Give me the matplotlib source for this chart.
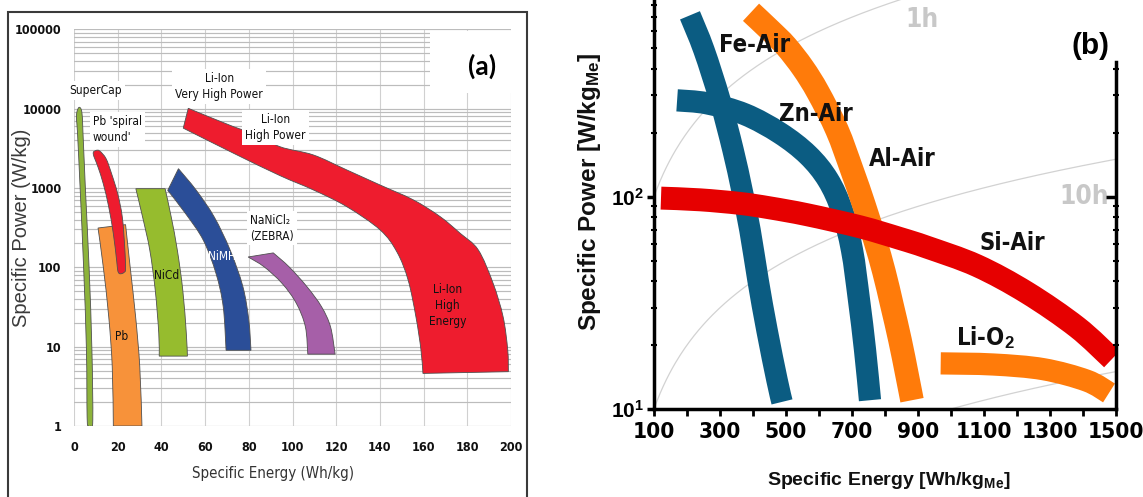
import numpy as np
import matplotlib
matplotlib.use("Agg")
import matplotlib.pyplot as plt
from matplotlib import font_manager as fm
from matplotlib.ticker import FixedLocator, LogLocator, NullFormatter
from matplotlib.patches import Rectangle, PathPatch
from matplotlib.path import Path

# ---------------- data: panel (a) ----------------
a_xticks = [0, 20, 40, 60, 80, 100, 120, 140, 160, 180, 200]
a_yticks = [1, 10, 100, 1000, 10000, 100000]
a_ytick_labels = ["1", "10", "100", "1000", "10000", "100000"]

# closed outlines
supercap_E = [2.4, 1.3, 1.2, 1.6, 2.8, 4.4, 5.7, 6.0, 6.6, 7.6, 8.6, 8.2, 6.9, 5.2, 4.1, 3.6]
supercap_P = [10400, 9000, 7000, 5000, 1000, 100, 9, 1.3, 1.0, 1.0, 1.2, 9, 100, 1000, 5000, 9000]

pbspiral_E = [10.1, 8.8, 11.0, 13.4, 15.9, 18.0, 19.5, 20.0, 20.6, 21.6, 22.8, 23.6, 23.2, 22.1, 20.0, 17.2, 14.7, 11.8]
pbspiral_P = [2970, 2700, 1830, 1130, 576, 266, 123, 92, 84, 83, 86, 96, 181, 431, 847, 1513, 2335, 2920]

# band outlines: two edges, each from top to bottom
pb_left_E = [11.0, 13.4, 15.9, 17.5, 18.0]
pb_left_P = [313, 101, 23.8, 5.6, 1.0]
pb_right_E = [23.6, 25.7, 28.2, 30.1, 31.1]
pb_right_P = [345, 101, 23.8, 5.6, 1.0]

nicd_left_E = [28.3, 31.4, 34.7, 37.2, 38.8, 39.0]
nicd_left_P = [980, 430, 164, 51, 14.7, 7.6]
nicd_right_E = [41.7, 44.5, 47.3, 49.8, 51.4, 51.9]
nicd_right_P = [980, 430, 164, 51, 14.7, 7.6]

nimh_inner_E = [42.9, 51.1, 59.2, 65.0, 68.3, 69.6]
nimh_inner_P = [933, 474, 219, 83.4, 31.8, 9.0]
nimh_outer_E = [47.8, 56.0, 64.2, 71.5, 77.3, 80.0, 81.0]
nimh_outer_P = [1750, 933, 430, 164, 57, 21.6, 9.0]

zebra_inner_E = [79.7, 87.1, 95.3, 101.8, 105.9, 107.0]
zebra_inner_P = [135, 101, 62.4, 35.0, 17.8, 8.05]
zebra_outer_E = [91.2, 98.5, 106.7, 113.3, 117.4, 119.5]
zebra_outer_P = [152, 101, 56.6, 31.8, 17.8, 8.05]

liion_lower_E = [50.0, 72.9, 94.3, 109.5, 124.8, 140.1, 147.8, 152.9, 156.5, 158.8, 159.7]
liion_lower_P = [5680, 2750, 1430, 946, 582, 296, 156, 69.4, 23.7, 9.1, 4.6]
liion_upper_E = [52.3, 72.9, 82.1, 94.3, 109.5, 124.8, 140.1, 155.3, 167.5, 176.7, 185.0,
                 191.8, 196.4, 198.5, 198.8]
liion_upper_P = [10100, 5940, 4900, 3310, 2610, 1690, 1090, 708, 437, 269, 166,
                 63, 23.7, 9.1, 4.84]

# ---------------- data: panel (b) ----------------
b_xticks_major = [100, 300, 500, 700, 900, 1100, 1300, 1500]
b_xticks_minor = [200, 400, 600, 800, 1000, 1200, 1400]
b_yticks = [10, 100]
b_ytick_labels = [r"$\mathbf{10^{1}}$", r"$\mathbf{10^{2}}$"]

fe_E = [209, 251.5, 300, 339.4, 366.7, 390.9, 415.2, 442.4, 472.7, 487.9]
fe_P = [714, 489, 284, 166, 107, 69.5, 40.5, 23.5, 13.7, 10.8]

zn_E = [170, 260.6, 375.8, 481.8, 566.7, 627.3, 669.7, 700, 721.2, 739.4, 754.5]
zn_P = [284, 275, 244, 199, 157, 120, 86, 56, 32.6, 19, 11]

al_E = [394, 451.5, 500, 551.5, 597, 654.5, 700, 736.4, 769.7, 797, 821.2, 845.5, 866.7, 881.8]
al_P = [738, 608, 511, 403, 310, 206, 133, 91.2, 62.4, 44.2, 30.8, 21.1, 14.5, 11.0]

si_E = [121.2, 239.4, 360.6, 451.5, 563.6, 724.2, 845.5, 927.3, 1078.8, 1230.3, 1381.8, 1487.9]
si_P = [98.4, 96.6, 92.9, 88.5, 82.2, 72.1, 63.5, 57.8, 47.3, 35.3, 24.3, 17.2]

lio2_E = [968.8, 1128.2, 1279.7, 1411.2, 1478.8]
lio2_P = [16.4, 16.2, 15.4, 13.6, 11.9]

iso_hours = [1, 10, 100]

# ---------------- fonts ----------------
_entries = fm.fontManager.ttflist
_names = {f.name for f in _entries}
COND = None
if "Liberation Sans Narrow" in _names:
    COND = ("Liberation Sans Narrow", "normal", 1.0)
else:
    for nm in ["DejaVu Sans", "Noto Sans", "Open Sans", "Roboto", "Liberation Sans"]:
        if any(f.name == nm and str(f.stretch) in ("condensed", "semi-condensed", "extra-condensed")
               for f in _entries):
            COND = (nm, "condensed", 0.9)
            break


def nf(size, weight="normal"):
    """narrow font (falls back to Liberation Sans)"""
    if COND:
        return dict(family=[COND[0], "Liberation Sans", "DejaVu Sans"], fontsize=size * COND[2],
                    fontweight=weight, fontstretch=COND[1])
    return dict(family=["Liberation Sans", "DejaVu Sans"], fontsize=size * 0.85, fontweight=weight)


def rf(size, weight="normal"):
    return dict(family=["Liberation Sans", "DejaVu Sans"], fontsize=size, fontweight=weight)


plt.rcParams["mathtext.fontset"] = "custom"
plt.rcParams["mathtext.rm"] = "Liberation Sans"
plt.rcParams["mathtext.it"] = "Liberation Sans:italic"
plt.rcParams["mathtext.bf"] = "Liberation Sans:bold"
plt.rcParams["mathtext.sf"] = "Liberation Sans"


# ---------------- smooth path helpers (Catmull-Rom -> cubic Bezier in E / log P space) -------
def _bezier(E, P, closed=False):
    x = np.asarray(E, float)
    y = np.log10(np.asarray(P, float))
    pts = np.column_stack([x, y])
    n = len(pts)
    verts, codes = [pts[0]], [Path.MOVETO]
    segs = n if closed else n - 1
    for i in range(segs):
        p1 = pts[i % n]
        p2 = pts[(i + 1) % n]
        p0 = pts[(i - 1) % n] if (closed or i > 0) else p1
        p3 = pts[(i + 2) % n] if (closed or i + 2 < n) else p2
        c1 = p1 + (p2 - p0) / 6.0
        c2 = p2 - (p3 - p1) / 6.0
        verts += [c1, c2, p2]
        codes += [Path.CURVE4] * 3
    v = np.array(verts)
    v[:, 1] = 10 ** v[:, 1]
    return v, codes


def smooth_line(E, P):
    v, c = _bezier(E, P)
    return Path(v, c)


def smooth_closed(E, P):
    v, c = _bezier(E, P, closed=True)
    c = list(c)
    v = np.vstack([v, v[:1]])
    c.append(Path.CLOSEPOLY)
    return Path(v, c)


def band_path(E1, P1, E2, P2):
    """edge 1 (top->bottom), then edge 2 traversed bottom->top, straight joins."""
    v1, c1 = _bezier(E1, P1)
    v2, c2 = _bezier(E2[::-1], P2[::-1])
    c2 = list(c2)
    c2[0] = Path.LINETO
    v = np.vstack([v1, v2, v1[:1]])
    c = list(c1) + c2 + [Path.CLOSEPOLY]
    return Path(v, c)


W, H = 1143, 497
fig = plt.figure(figsize=(W / 100, H / 100), dpi=100)

# =============== panel (a) ===============
axA = fig.add_axes([74 / W, 1 - 426 / H, 437 / W, 396.7 / H])
axA.set_yscale("log")
axA.set_xlim(0, 200)
axA.set_ylim(1, 100000)
axA.set_axisbelow(True)
axA.set_xticks(a_xticks, labels=[str(v) for v in a_xticks], **nf(10, "bold"))
axA.set_yticks(a_yticks, labels=a_ytick_labels, **nf(10, "bold"))
axA.yaxis.set_minor_locator(LogLocator(base=10, subs=np.arange(2, 10)))
axA.yaxis.set_minor_formatter(NullFormatter())
axA.grid(which="both", axis="y", color="#bcbcbc", lw=0.85)
axA.grid(which="major", axis="x", color="#d0d0d0", lw=0.8)
axA.tick_params(which="both", length=0)
axA.tick_params(axis="x", pad=11, colors="#111111")
axA.tick_params(axis="y", pad=9, colors="#111111")
for s in axA.spines.values():
    s.set_visible(False)

axA.add_patch(Rectangle((0.815, 0.839), 0.19, 0.157, transform=axA.transAxes,
                        fc="white", ec="none", zorder=1))

edge = dict(edgecolor="#505050", lw=0.6, zorder=2)
axA.add_patch(PathPatch(smooth_closed(supercap_E, supercap_P), facecolor="#8DB33A", **edge))
axA.add_patch(PathPatch(band_path(pb_left_E, pb_left_P, pb_right_E, pb_right_P),
                        facecolor="#F7923A", **edge))
axA.add_patch(PathPatch(smooth_closed(pbspiral_E, pbspiral_P), facecolor="#EE1C2E", **edge))
axA.add_patch(PathPatch(band_path(nicd_left_E, nicd_left_P, nicd_right_E, nicd_right_P),
                        facecolor="#96BC2E", **edge))
axA.add_patch(PathPatch(band_path(nimh_inner_E, nimh_inner_P, nimh_outer_E, nimh_outer_P),
                        facecolor="#2B4E98", **edge))
axA.add_patch(PathPatch(band_path(zebra_inner_E, zebra_inner_P, zebra_outer_E, zebra_outer_P),
                        facecolor="#A65FA8", **edge))
axA.add_patch(PathPatch(band_path(liion_lower_E, liion_lower_P, liion_upper_E, liion_upper_P),
                        facecolor="#EE1C2E", **edge))

box = dict(boxstyle="square,pad=0.25", fc="white", ec="none")
tk = dict(color="#111111", zorder=5, linespacing=1.3)
lab = 9.5
axA.text(9.8, 16900, "SuperCap", ha="center", va="center", bbox=box, **tk, **nf(lab))
axA.text(8.5, 5410, "Pb 'spiral\nwound'", ha="left", va="center", bbox=box, **tk, **nf(lab))
axA.text(66.5, 19200, "Li-Ion\nVery High Power", ha="center", va="center", multialignment="center",
         bbox=box, **tk, **nf(lab))
axA.text(92.3, 5850, "Li-Ion\nHigh Power", ha="center", va="center", multialignment="center",
         bbox=box, **tk, **nf(lab))
axA.text(90.7, 313, "NaNiCl\u2082\n(ZEBRA)", ha="center", va="center", multialignment="left",
         bbox=box, **tk, **nf(lab))
axA.text(67.8, 135, "NiMH", ha="center", va="center", color="white", zorder=5, **nf(lab))
axA.text(42.4, 78, "NiCd", ha="center", va="center", **tk, **nf(lab))
axA.text(21.6, 13.6, "Pb", ha="center", va="center", **tk, **nf(lab))
axA.text(171, 33, "Li-Ion\nHigh\nEnergy", ha="center", va="center", multialignment="center",
         **tk, **nf(lab))
axA.text(186.6, 34000, "(a)", ha="center", va="center", zorder=5, color="black",
         family=["Lato", "Open Sans", "DejaVu Sans"], fontsize=19, fontweight="bold")

axA.set_ylabel("Specific Power (W/kg)", color="#3a3a3a", **rf(14.5))
axA.yaxis.set_label_coords(-0.098, 0.5)
axA.set_xlabel("Specific Energy (Wh/kg)", color="#333333", **nf(12))
axA.xaxis.set_label_coords(0.4545, -0.100)

fig.add_artist(Rectangle((8.3 / W, -0.02), (527 - 8.3) / W, 1 - 11.7 / H + 0.02,
                         transform=fig.transFigure, fill=False, edgecolor="#3a3a3a", lw=1.5))

# =============== panel (b) ===============
axB = fig.add_axes([654 / W, 1 - 409 / H, 462 / W, 409 / H])
axB.set_yscale("log")
axB.set_xlim(100, 1500)
axB.set_ylim(10, 843)

E_iso = np.linspace(100, 1500, 300)
for h in iso_hours:
    axB.plot(E_iso, E_iso / h, color="#d2d2d2", lw=0.9, zorder=1)

band = dict(fill=False, capstyle="butt", joinstyle="round")
axB.add_patch(PathPatch(smooth_line(fe_E, fe_P), edgecolor="#0B5C82", lw=15.5, zorder=2, **band))
axB.add_patch(PathPatch(smooth_line(zn_E, zn_P), edgecolor="#0B5C82", lw=16, zorder=2, **band))
axB.add_patch(PathPatch(smooth_line(al_E, al_P), edgecolor="#FF7B0A", lw=17, zorder=2, **band))
axB.add_patch(PathPatch(smooth_line(lio2_E, lio2_P), edgecolor="#FF7B0A", lw=16, zorder=2, **band))
axB.add_patch(PathPatch(smooth_line(si_E, si_P), edgecolor="#E60000", lw=16.5, zorder=3, **band))

lk = dict(color="#111111", ha="center", va="center", zorder=6)
axB.text(406, 516, "Fe-Air", **lk, **nf(19, "bold"))
axB.text(590, 244, "Zn-Air", **lk, **nf(19, "bold"))
axB.text(853, 150, "Al-Air", **lk, **nf(19, "bold"))
axB.text(1186, 60.4, "Si-Air", **lk, **nf(19, "bold"))
axB.text(1103, 21.8, r"Li-O$_{\mathbf{2}}$", **lk, **nf(19, "bold"))
axB.text(912, 676, "1h", color="#c8c8c8", ha="center", va="center", zorder=6, **nf(21, "bold"))
axB.text(1404, 100, "10h", color="#c8c8c8", ha="center", va="center", zorder=6, **nf(21, "bold"))
axB.text(1424, 511, "(b)", color="black", ha="center", va="center", zorder=7, clip_on=False,
         **rf(21.5, "bold"))

axB.set_xticks(b_xticks_major, labels=[str(v) for v in b_xticks_major], **nf(18, "bold"))
axB.set_xticks(b_xticks_minor, minor=True)
axB.set_yticks(b_yticks, labels=b_ytick_labels, **rf(15))
axB.yaxis.set_minor_locator(LogLocator(base=10, subs=np.arange(2, 10)))
axB.yaxis.set_minor_formatter(NullFormatter())
axB.tick_params(axis="x", which="both", direction="out", length=5, width=2, pad=4, colors="black")
axB.tick_params(axis="y", which="major", direction="out", length=5, width=2.5, pad=2)
axB.tick_params(axis="y", which="minor", direction="inout", length=4, width=1.5)
for side in ("top", "right"):
    axB.spines[side].set_visible(False)
for side in ("left", "bottom"):
    axB.spines[side].set_linewidth(2.5)
    axB.spines[side].set_color("black")

tw = axB.twinx()
tw.set_yscale("log")
tw.set_ylim(10, 843)
tw.yaxis.set_major_locator(FixedLocator([100]))
tw.yaxis.set_minor_locator(FixedLocator([20, 30, 40, 50, 60, 70, 80, 90, 200, 300, 400]))
tw.yaxis.set_major_formatter(NullFormatter())
tw.yaxis.set_minor_formatter(NullFormatter())
tw.tick_params(axis="y", which="major", direction="in", length=7, width=2.5)
tw.tick_params(axis="y", which="minor", direction="inout", length=4, width=1.5)
for side in ("top", "left", "bottom"):
    tw.spines[side].set_visible(False)
tw.spines["right"].set_linewidth(2.5)
tw.spines["right"].set_bounds(10, 431)

axB.set_ylabel(r"Specific Power [W/kg$_{\mathbf{Me}}$]", color="#111111", **rf(17.5, "bold"))
axB.yaxis.set_label_coords(-0.110, 0.53)
axB.set_xlabel(r"Specific Energy [Wh/kg$_{\mathbf{Me}}$]", color="#111111", **rf(14, "bold"))
axB.xaxis.set_label_coords(0.509, -0.149)

fig.savefig("out.png", dpi=100)
